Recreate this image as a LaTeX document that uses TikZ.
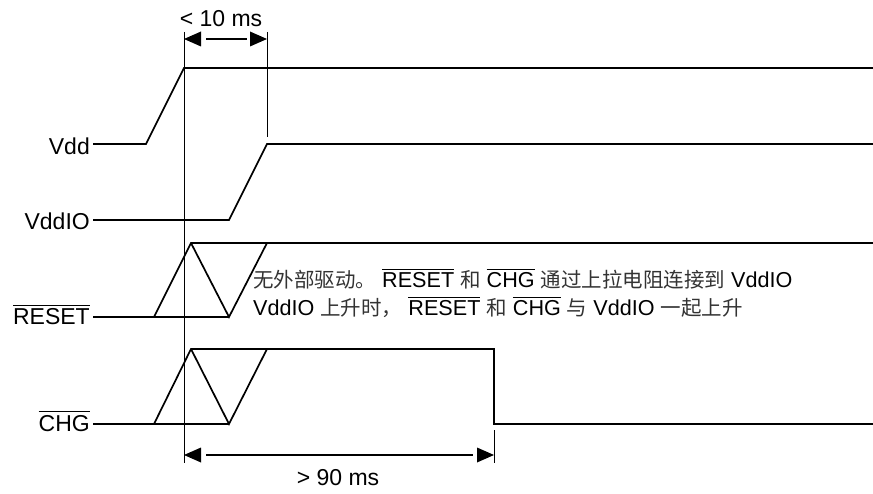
\documentclass[tikz,border=0pt]{standalone}
\usepackage{fontspec}
\setmainfont{Liberation Sans}
\newfontfamily\cjkfont{Noto Sans CJK SC}
\newcommand\zh[1]{{\cjkfont\fontsize{20.5}{24}\selectfont\color{black!80}#1}}
\newcommand\ovl[1]{$\overline{\mbox{\rule{0pt}{0.82em}#1}}$}
\tikzset{
  sig/.style={line width=1.7pt, line join=miter, line cap=butt},
  guide/.style={line width=0.8pt},
  lbl/.style={anchor=east, inner sep=0pt, font=\fontsize{23}{27}\selectfont},
  dimtxt/.style={inner sep=0pt, font=\fontsize{23}{27}\selectfont},
  note/.style={anchor=base west, inner sep=0pt, font=\fontsize{21.6}{25}\selectfont},
  tip/.style={fill=black, draw=none}
}
\begin{document}
\begin{tikzpicture}[x=1pt, y=-1pt]
\useasboundingbox (0,0) rectangle (873,494);

% labels
\node[lbl] (vdd)   at (90,146) {Vdd};
\node[lbl] (vddio) at (90,221) {VddIO};
\node[lbl, anchor=base east] (rst) at (90,325) {\ovl{RESET}};
\node[lbl, anchor=base east] (chg) at (90,431) {\ovl{CHG}};

% key coordinates
\coordinate (a0) at (93,144);
\coordinate (a1) at (146,144);
\coordinate (a2) at (184,68);
\coordinate (a3) at (873,68);

\coordinate (b0) at (93,220);
\coordinate (b1) at (229,220);
\coordinate (b2) at (267,144);
\coordinate (b3) at (873,144);

\coordinate (r0) at (93,317);
\coordinate (r1) at (154,317);
\coordinate (r2) at (191,243);
\coordinate (r3) at (229,317);
\coordinate (r4) at (267,243);
\coordinate (r5) at (873,243);

\coordinate (c0) at (93,424);
\coordinate (c1) at (154,424);
\coordinate (c2) at (191,349);
\coordinate (c3) at (229,424);
\coordinate (c4) at (267,349);
\coordinate (c5) at (494,349);
\coordinate (c6) at (494,424);
\coordinate (c7) at (873,424);

% waveforms
\draw[sig] (a0) -- (a1) -- (a2) -- (a3);
\draw[sig] (b0) -- (b1) -- (b2) -- (b3);
\draw[sig] (r0) -- (r1) -- (r2) -- (r5);
\draw[sig] (r1) -- (r3);
\draw[sig] (r2) -- (r3) -- (r4);
\draw[sig] (c0) -- (c1) -- (c2) -- (c5) -- (c6) -- (c7);
\draw[sig] (c1) -- (c3);
\draw[sig] (c2) -- (c3) -- (c4);

% guide lines
\coordinate (g1t) at (184,32);
\coordinate (g1b) at (184,463);
\coordinate (g2t) at (267,32);
\coordinate (g2b) at (267,137);
\coordinate (g3t) at (494,430);
\coordinate (g3b) at (494,463);
\draw[guide] (g1t) -- (g1b);
\draw[guide] (g2t) -- (g2b);
\draw[guide] (g3t) -- (g3b);

% top dimension
\coordinate (t1) at (184,39);
\coordinate (t2) at (267,39);
\fill[tip] (t1) -- ++(17,-7.5) -- ++(0,15) -- cycle;
\fill[tip] (t2) -- ++(-17,-7.5) -- ++(0,15) -- cycle;
\draw[guide, line width=1.2pt] ([xshift=22pt]t1) -- ([xshift=-20pt]t2);
\node[dimtxt] (lt10) at (221,19) {< 10 ms};

% bottom dimension
\coordinate (u1) at (184,455);
\coordinate (u2) at (494,455);
\fill[tip] (u1) -- ++(17,-7.5) -- ++(0,15) -- cycle;
\fill[tip] (u2) -- ++(-17,-7.5) -- ++(0,15) -- cycle;
\draw[guide, line width=1.2pt] ([xshift=22pt]u1) -- ([xshift=-21pt]u2);
\node[dimtxt] (gt90) at (338,478) {> 90 ms};

% annotation
\node[note] (n1) at (253,288) {\zh{无外部驱动。} \ovl{RESET} \zh{和} \ovl{CHG} \zh{通过上拉电阻连接到} VddIO};
\node[note] (n2) at (253,316) {VddIO \zh{上升时，} \ovl{RESET} \zh{和} \ovl{CHG} \zh{与} VddIO \zh{一起上升}};
\end{tikzpicture}
\end{document}
